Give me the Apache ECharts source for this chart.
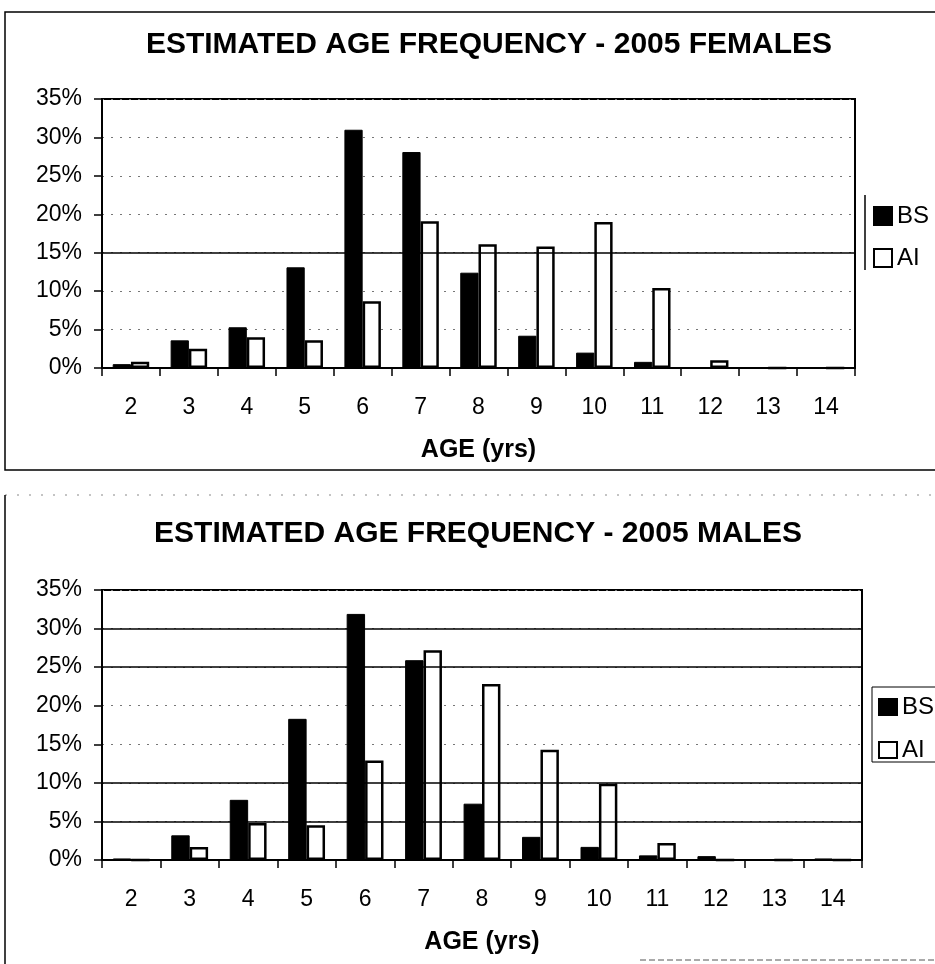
<!DOCTYPE html>
<html>
<head>
<meta charset="utf-8">
<script src="https://cdn.jsdelivr.net/npm/echarts@6/dist/echarts.min.js"></script>
<style>
html,body{margin:0;padding:0;background:#fff;}
#chart{width:935px;height:964px;}
</style>
</head>
<body>
<div id="chart"></div>
<script>
// ---- data ----
const ages = ['2','3','4','5','6','7','8','9','10','11','12','13','14'];
const femaleBS = [0.5, 3.6, 5.3, 13.1, 31.0, 28.1, 12.4, 4.2, 2.0, 0.8, 0.1, 0, 0];
const femaleAI = [0.8, 2.5, 4.0, 3.6, 8.7, 19.1, 16.1, 15.8, 19.0, 10.4, 1.0, 0, 0];
const maleBS = [0.2, 3.2, 7.8, 18.3, 31.9, 25.9, 7.3, 3.0, 1.7, 0.6, 0.5, 0.1, 0.2];
const maleAI = [0, 1.7, 4.8, 4.5, 12.9, 27.2, 22.8, 14.3, 9.9, 2.2, 0, 0, 0];
const femaleTitle = 'ESTIMATED AGE FREQUENCY - 2005 FEMALES';
const maleTitle = 'ESTIMATED AGE FREQUENCY - 2005 MALES';
const xName = 'AGE (yrs)';
const seriesNames = ['BS', 'AI'];
const femaleSolidGrid = [15];
const maleSolidGrid = [5, 10, 25, 30];

const FONT = '"Liberation Sans", Arial, sans-serif';
const chart = echarts.init(document.getElementById('chart'));

function yAxis(gi) {
  return {
    gridIndex: gi, type: 'value', min: 0, max: 35, interval: 5,
    axisLine: {show: true, lineStyle: {color: '#000', width: 2}},
    axisTick: {show: true, length: 8, lineStyle: {color: '#000', width: 1.5}},
    axisLabel: {formatter: '{value}%', fontSize: 23, color: '#000', fontFamily: FONT, margin: 20},
    splitLine: {show: true, lineStyle: {color: '#777', width: 1, type: [2, 7]}}
  };
}
function xAxis(gi) {
  return {
    gridIndex: gi, type: 'category', data: ages,
    axisLine: {show: true, lineStyle: {color: '#000', width: 2}},
    axisTick: {show: true, length: 8, lineStyle: {color: '#000', width: 1.5}},
    axisLabel: {fontSize: 23, color: '#000', fontFamily: FONT, margin: 28},
    name: xName, nameLocation: 'middle', nameGap: 70,
    nameTextStyle: {fontSize: 25, fontWeight: 'bold', color: '#000', fontFamily: FONT}
  };
}
function solidLines(vals) {
  return {
    silent: true, symbol: 'none', label: {show: false},
    lineStyle: {color: '#000', width: 1.5, type: 'solid'},
    data: vals.map(v => ({yAxis: v}))
  };
}
const bsStyle = {color: '#000', borderColor: '#000', borderWidth: 1};
const aiStyle = {color: '#fff', borderColor: '#000', borderWidth: 2.5};

const option = {
  backgroundColor: '#fff',
  animation: false,
  title: [
    {text: femaleTitle, left: 489, top: 30, textAlign: 'center', padding: 0,
     textStyle: {fontSize: 30, fontWeight: 'bold', color: '#000', fontFamily: FONT}},
    {text: maleTitle, left: 478, top: 519, textAlign: 'center', padding: 0,
     textStyle: {fontSize: 30, fontWeight: 'bold', color: '#000', fontFamily: FONT}}
  ],
  legend: [
    {data: seriesNames, orient: 'vertical', left: 873, top: 204, padding: 0,
     itemWidth: 18, itemHeight: 18, itemGap: 18, icon: 'rect',
     textStyle: {fontSize: 24, color: '#000', fontFamily: FONT}},
    {data: seriesNames, orient: 'vertical', left: 878, top: 695, padding: 0,
     itemWidth: 18, itemHeight: 16, itemGap: 19, icon: 'rect',
     textStyle: {fontSize: 24, color: '#000', fontFamily: FONT}}
  ],
  grid: [
    {left: 102, top: 99, width: 753, height: 269, show: true, borderColor: '#000', borderWidth: 2, backgroundColor: 'transparent'},
    {left: 102, top: 590, width: 760, height: 270, show: true, borderColor: '#000', borderWidth: 2, backgroundColor: 'transparent'}
  ],
  xAxis: [xAxis(0), xAxis(1)],
  yAxis: [yAxis(0), yAxis(1)],
  series: [
    {name: seriesNames[0], type: 'bar', xAxisIndex: 0, yAxisIndex: 0, data: femaleBS, itemStyle: bsStyle,
     barGap: '0%', barCategoryGap: '37%', markLine: solidLines(femaleSolidGrid), z: 3},
    {name: seriesNames[1], type: 'bar', xAxisIndex: 0, yAxisIndex: 0, data: femaleAI, itemStyle: aiStyle,
     barGap: '0%', barCategoryGap: '37%', z: 3},
    {name: seriesNames[0], type: 'bar', xAxisIndex: 1, yAxisIndex: 1, data: maleBS, itemStyle: bsStyle,
     barGap: '0%', barCategoryGap: '37%', markLine: solidLines(maleSolidGrid), z: 3},
    {name: seriesNames[1], type: 'bar', xAxisIndex: 1, yAxisIndex: 1, data: maleAI, itemStyle: aiStyle,
     barGap: '0%', barCategoryGap: '37%', z: 3}
  ],
  graphic: [
    {type: 'polyline', shape: {points: [[940, 12], [5, 12], [5, 470], [940, 470]]}, style: {stroke: '#000', lineWidth: 1.5, fill: null}},
    {type: 'line', shape: {x1: 5, y1: 495, x2: 940, y2: 495}, style: {stroke: '#888', lineWidth: 1, lineDash: [2, 10]}},
    {type: 'line', shape: {x1: 5, y1: 495, x2: 5, y2: 964}, style: {stroke: '#000', lineWidth: 1.5}},
    {type: 'line', shape: {x1: 640, y1: 960, x2: 940, y2: 960}, style: {stroke: '#555', lineWidth: 1, lineDash: [6, 3]}},
    {type: 'line', shape: {x1: 865, y1: 195, x2: 865, y2: 270}, style: {stroke: '#000', lineWidth: 1.5}},
    {type: 'polyline', shape: {points: [[940, 687], [872, 687], [872, 762], [940, 762]]}, style: {stroke: '#000', lineWidth: 1, fill: null}}
  ]
};
chart.setOption(option);
</script>
</body>
</html>
